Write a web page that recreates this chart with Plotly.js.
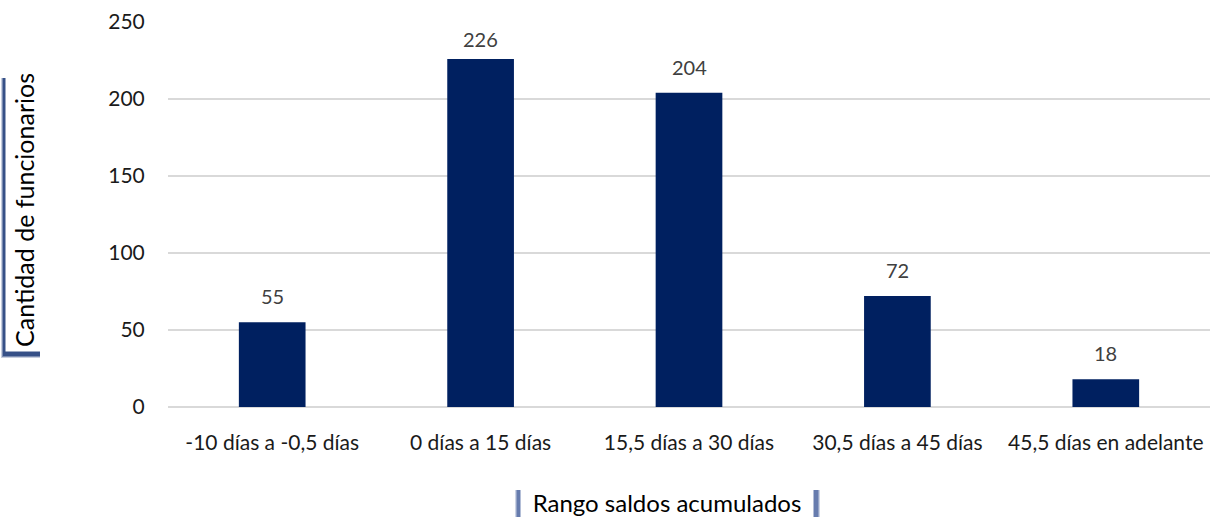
<!DOCTYPE html>
<html><head><meta charset="utf-8">
<script src="https://cdn.plot.ly/plotly-3.0.1.min.js"></script>
<style>html,body{margin:0;padding:0;background:#fff;}#chart{width:1214px;height:517px;}</style>
</head><body><div id="chart"></div>
<script>
const categories = ["-10 días a -0,5 días", "0 días a 15 días", "15,5 días a 30 días", "30,5 días a 45 días", "45,5 días en adelante"];
const values = [55, 226, 204, 72, 18];
const yTicks = [0, 50, 100, 150, 200, 250];

const W = 1214, H = 517, L = 168, R = 4, T = 22, B = 110;
const pw = W - L - R, ph = H - T - B;
const px = x => (x - L) / pw;
const py = y => (H - B - y) / ph;
const FONT = "Lato, 'Open Sans', sans-serif";
const YMAX = 250;

const data = [{
  type: "bar", x: categories, y: values,
  marker: {color: "#002060"},
  width: 0.32,
  hoverinfo: "skip"
}];

const shadows = [];
[[0, 0.25], [1, 0.45], [2, 0.75]].forEach(([d, op]) => {
  shadows.push({type: "rect", xref: "paper", yref: "paper", x0: px(1 + d), x1: px(40), y0: py(358 - d), y1: py(78),
    fillcolor: "#1f3c7a", opacity: op, line: {width: 0}, layer: "above"});
});
[[0, 0.3], [1, 0.5], [2, 0.8]].forEach(([d, op]) => {
  shadows.push({type: "rect", xref: "paper", yref: "paper", x0: px(515 + d), x1: px(820 - d), y0: py(517), y1: py(490),
    fillcolor: "#5b72a8", opacity: op, line: {width: 0}, layer: "above"});
});

// data labels; labels near the top are nudged down to stay inside the plot
const labelAnns = categories.map((c, i) => {
  const barTop = (H - B) - values[i] * ph / YMAX;
  const shift = Math.min(12, barTop - 20 - 33);
  return {
    x: c, y: values[i], xref: "x", yref: "y", text: String(values[i]), showarrow: false,
    yanchor: "bottom", yshift: shift, font: {family: FONT, size: 20, color: "#404040"}
  };
});

const layout = {
  width: W, height: H,
  margin: {l: L, r: R, t: T, b: B},
  paper_bgcolor: "#fff", plot_bgcolor: "#fff",
  showlegend: false,
  font: {family: FONT, size: 21, color: "#1a1a1a"},
  xaxis: {type: "category", tickfont: {family: FONT, size: 21, color: "#1a1a1a"},
          showgrid: false, showline: false, ticks: "outside", ticklen: 17, tickcolor: "rgba(0,0,0,0)", automargin: false},
  yaxis: {range: [0, YMAX], tickvals: yTicks, tickfont: {family: FONT, size: 21, color: "#1a1a1a"},
          showgrid: true, gridcolor: "#d9d9d9", gridwidth: 1.5, zeroline: true, zerolinecolor: "#d9d9d9", zerolinewidth: 1.5,
          ticks: "outside", ticklen: 18, tickcolor: "rgba(0,0,0,0)", automargin: false},
  shapes: shadows,
  annotations: labelAnns.concat([
    {xref: "paper", yref: "paper", x: px(24), y: py(210), text: "Cantidad de funcionarios", textangle: -90,
     showarrow: false, font: {family: FONT, size: 25, color: "#000"}, bgcolor: "#fff",
     width: 282, height: 36, xanchor: "center", yanchor: "middle", borderpad: 0},
    {xref: "paper", yref: "paper", x: px(667), y: py(502), text: "Rango saldos acumulados",
     showarrow: false, font: {family: FONT, size: 24, color: "#000"}, bgcolor: "#fff",
     width: 292, height: 29, xanchor: "center", yanchor: "middle", borderpad: 0}
  ])
};

Plotly.newPlot("chart", data, layout, {displayModeBar: false, staticPlot: true});
</script></body></html>
